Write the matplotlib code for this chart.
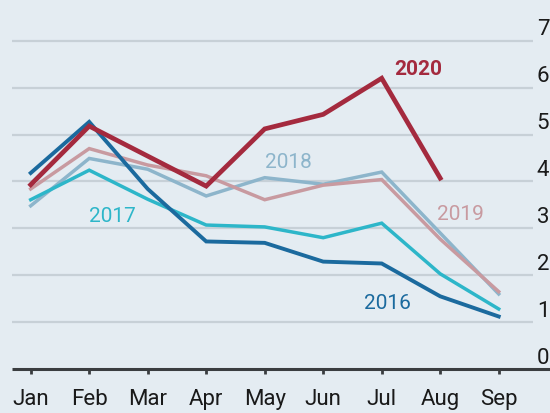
import matplotlib.pyplot as plt

months = ["Jan", "Feb", "Mar", "Apr", "May", "Jun", "Jul", "Aug", "Sep"]
y2016 = [4.18, 5.27, 3.84, 2.72, 2.69, 2.29, 2.25, 1.55, 1.12]
y2017 = [3.61, 4.24, 3.62, 3.07, 3.03, 2.80, 3.11, 2.03, 1.28]
y2018 = [3.48, 4.49, 4.26, 3.69, 4.08, 3.94, 4.20, 2.90, 1.60]
y2019 = [3.84, 4.70, 4.35, 4.12, 3.61, 3.92, 4.04, 2.77, 1.65]
y2020 = [3.93, 5.18, 4.54, 3.90, 5.12, 5.43, 6.20, 4.07]
yticks = [0, 1, 2, 3, 4, 5, 6, 7]

bg = "#e4ecf2"
c2016, c2017, c2018, c2019, c2020 = "#1b6a9e", "#2db6c9", "#8db5cb", "#c89aa0", "#a42a3e"
font = ["Roboto", "DejaVu Sans"]

fig = plt.figure(figsize=(5.5, 4.14), dpi=100, facecolor=bg)
ax = fig.add_axes([0, 0, 1, 1])
ax.set_facecolor(bg)
ax.set_xlim(-0.525, 8.877)
ax.set_ylim(-0.938, 7.89)
ax.axis("off")

# gridlines and baseline
ax.hlines(yticks[1:], -0.32, 8.59, color="#c7d0d7", lw=1.6, zorder=1)
ax.hlines(0, -0.32, 8.877, color="#3a3d40", lw=2.2, zorder=5)
x = list(range(len(months)))
ax.vlines(x, -0.11, 0, color="#3a3d40", lw=2, zorder=5)

for i, m in enumerate(months):
    ax.text(i, -0.62, m, ha="center", va="center", fontsize=16, color="#1a1a1a", family=font)
for t in yticks:
    ax.text(8.65, t + 0.03, str(t), ha="left", va="bottom", fontsize=16, color="#1a1a1a", family=font)

ax.plot(x, y2018, color=c2018, lw=2.5, zorder=2, solid_joinstyle="miter")
ax.plot(x, y2019, color=c2019, lw=2.5, zorder=2, solid_joinstyle="miter")
ax.plot(x, y2017, color=c2017, lw=2.5, zorder=3, solid_joinstyle="miter")
ax.plot(x, y2016, color=c2016, lw=2.8, zorder=3, solid_joinstyle="miter")
ax.plot(x[:len(y2020)], y2020, color=c2020, lw=3.4, zorder=4, solid_joinstyle="miter")

ax.text(6.22, 6.3, "2020", color=c2020, fontsize=15, fontweight="bold", family=font)
ax.text(4.0, 4.3, "2018", color=c2018, fontsize=15, family=font)
ax.text(1.0, 3.15, "2017", color=c2017, fontsize=15, family=font)
ax.text(6.95, 3.2, "2019", color=c2019, fontsize=15, family=font)
ax.text(5.7, 1.3, "2016", color=c2016, fontsize=15, family=font)

fig.savefig("out.png", dpi=100, facecolor=bg)
